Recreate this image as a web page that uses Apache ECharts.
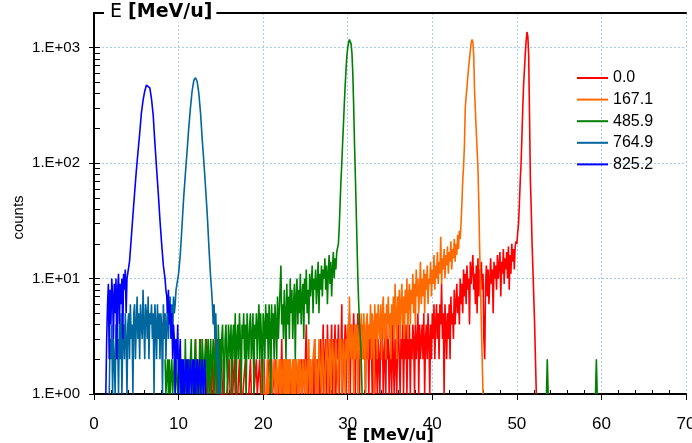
<!DOCTYPE html>
<html>
<head>
<meta charset="utf-8">
<script src="https://cdn.jsdelivr.net/npm/echarts@6/dist/echarts.min.js"></script>
<style>
  html, body { margin: 0; padding: 0; background: #fff; }
  #chart { width: 692px; height: 443px; }
</style>
</head>
<body>
<div id="chart"></div>
<script>
// Energy spectra (counts per bin) for five absorber thicknesses.
// Low-count regions use 0.1 MeV/u bins; broad peak flanks 0.2 MeV/u bins.
const seriesNames = ['0.0', '167.1', '485.9', '764.9', '825.2'];
const seriesColors = ['#ff0000', '#ff6a00', '#008000', '#00669e', '#0000ff'];
const xTicks = [0, 10, 20, 30, 40, 50, 60, 70];
const yTicks = [1, 10, 100, 1000];

// ---- 0.0 ----
const redLowStart = 11.8;   // 0.1 bins, 11.8 .. 49.9
const redLow = [
  1, 1, 3, 1, 1, 2, 1, 1, 3, 1,
  1, 2, 1, 1, 1, 3, 1, 1, 2, 1,
  1, 1, 2, 1, 1, 1, 4, 1, 1, 1,
  2, 1, 1, 1, 1, 2, 1, 1, 1, 1,
  1, 1, 2, 1, 1, 1, 1, 1, 2, 1,
  1, 1, 1, 1, 2, 1, 1, 1, 1, 1,
  1, 2, 1, 1, 1, 1, 1, 2, 1, 1,
  1, 1, 1, 1, 2, 1, 1, 1, 2, 1,
  1, 1, 1, 2, 1, 1, 1, 1, 1, 2,
  1, 1, 2, 1, 1, 1, 2, 1, 1, 1,
  1, 1, 2, 1, 3, 1, 1, 2, 1, 1,
  2, 1, 1, 1, 2, 1, 1, 1, 2, 1,
  1, 2, 1, 1, 2, 1, 1, 2, 1, 1,
  2, 1, 1, 4, 1, 2, 1, 1, 2, 1,
  1, 2, 1, 3, 1, 1, 2, 1, 2, 1,
  3, 1, 2, 4, 1, 2, 3, 1, 4, 2,
  1, 3, 2, 4, 1, 3, 2, 4, 1, 3,
  2, 4, 1, 3, 2, 6, 1, 3, 2, 4,
  1, 3, 4, 2, 5, 1, 4, 3, 2, 5,
  3, 1, 4, 2, 5, 3, 1, 4, 2, 3,
  4, 2, 3, 1, 4, 2, 3, 1, 4, 2,
  3, 1, 2, 4, 1, 3, 2, 1, 3, 2,
  1, 3, 2, 4, 1, 2, 3, 1, 4, 2,
  3, 1, 2, 3, 1, 4, 2, 1, 3, 2,
  1, 3, 4, 2, 1, 3, 2, 4, 1, 3,
  2, 4, 1, 3, 2, 4, 1, 3, 2, 4,
  3, 1, 4, 2, 3, 5, 1, 4, 2, 3,
  4, 2, 5, 1, 3, 4, 2, 5, 3, 1,
  4, 2, 5, 3, 6, 2, 4, 6, 3, 5,
  2, 6, 4, 9, 3, 5, 1, 6, 4, 2,
  5, 3, 6, 2, 7, 4, 5, 3, 8, 4,
  6, 9, 5, 7, 4, 10, 6, 9, 5, 12,
  7, 11, 6, 13, 8, 10, 4, 14, 9, 12,
  16, 8, 11, 6, 13, 5, 15, 7, 12, 10,
  14, 8, 11, 3, 2, 9, 13, 7, 12, 6,
  6, 15, 9, 12, 5, 14, 10, 13, 8, 16,
  10, 13, 17, 7, 14, 11, 18, 9, 15, 12,
  17, 10, 19, 8, 16, 11, 20, 14, 18, 12,
  19, 21
];
const redPeakStart = 50.0;  // 0.1 bins
const redPeak = [20, 25, 30, 45, 70, 100, 170, 300, 480, 650, 900, 1150, 1370, 1250, 850, 250, 70, 40, 20, 12, 7, 4, 2, 1];

// ---- 167.1 ----
const orangeLowStart = 19.8; // 0.1 bins, 19.8 .. 43.3
const orangeLow = [
  1, 1, 2, 1, 1, 1, 1, 2, 1, 1,
  1, 2, 1, 1, 1, 2, 1, 1, 2, 1,
  1, 2, 1, 2, 1, 1, 2, 1, 2, 1,
  2, 1, 2, 1, 2, 2, 1, 2, 1, 2,
  1, 2, 2, 1, 2, 1, 2, 2, 1, 2,
  2, 1, 2, 2, 1, 2, 3, 1, 2, 2,
  1, 2, 2, 3, 1, 2, 2, 1, 3, 2,
  2, 1, 3, 2, 2, 1, 2, 3, 2, 1,
  2, 3, 1, 2, 3, 2, 1, 2, 3, 2,
  2, 1, 3, 2, 3, 1, 2, 3, 2, 1,
  3, 2, 4, 1, 7, 3, 2, 4, 3, 1,
  4, 2, 3, 4, 1, 3, 4, 2, 5, 3,
  2, 5, 3, 1, 4, 5, 2, 4, 3, 6,
  2, 5, 4, 1, 6, 3, 5, 2, 6, 4,
  3, 6, 2, 5, 7, 3, 5, 2, 6, 4,
  7, 3, 5, 2, 6, 4, 7, 3, 9, 5,
  2, 7, 4, 8, 3, 6, 9, 4, 7, 3,
  8, 5, 10, 3, 7, 9, 4, 8, 6, 11,
  5, 9, 4, 12, 7, 10, 5, 8, 14, 6,
  10, 7, 12, 5, 11, 8, 13, 6, 10, 9,
  14, 7, 12, 9, 16, 8, 13, 10, 17, 9,
  14, 11, 23, 9, 15, 12, 18, 10, 16, 13,
  19, 11, 17, 14, 21, 12, 18, 15, 22, 14,
  20, 16, 24, 18, 26, 22
];
const orangePeakStart = 43.4; // 0.1 bins
const orangePeak = [30, 45, 70, 95, 140, 300, 380, 450, 560, 680, 800, 950, 1100, 1180, 1120, 850, 420, 280, 190, 130, 90, 45, 18, 9, 4, 2, 1];

// ---- 485.9 ----
const greenLowStart = 8.4;   // 0.1 bins, 8.4 .. 28.7
const greenLow = [
  2, 1, 1, 2, 1, 2, 1, 1, 2, 1,
  1, 2, 1, 2, 2, 1, 1, 2, 1, 2,
  1, 2, 2, 1, 3, 1, 2, 1, 2, 1,
  2, 3, 1, 2, 1, 2, 3, 1, 2, 2,
  1, 3, 2, 1, 3, 2, 1, 2, 3, 1,
  2, 3, 1, 2, 3, 1, 2, 3, 2, 1,
  3, 2, 1, 4, 2, 3, 1, 3, 4, 2,
  1, 3, 4, 2, 1, 4, 3, 2, 4, 1,
  3, 4, 2, 5, 1, 3, 4, 2, 5, 3,
  1, 4, 3, 5, 2, 4, 1, 5, 3, 2,
  4, 5, 2, 3, 5, 1, 4, 3, 5, 2,
  4, 6, 2, 5, 3, 1, 5, 4, 2, 6,
  3, 5, 2, 6, 4, 1, 6, 3, 5, 2,
  6, 4, 2, 7, 3, 5, 8, 13, 4, 6,
  3, 8, 5, 2, 9, 4, 7, 3, 10, 5,
  8, 3, 6, 9, 2, 7, 10, 4, 8, 5,
  11, 4, 7, 9, 3, 10, 6, 12, 5, 8,
  4, 11, 7, 9, 13, 5, 10, 8, 12, 6,
  9, 14, 5, 11, 8, 13, 7, 12, 10, 15,
  8, 13, 6, 11, 16, 9, 14, 7, 12, 17,
  10, 15, 12, 17
];
const greenPeakStart = 28.8; // 0.1 bins
const greenPeak = [17, 20, 28, 45, 70, 100, 150, 220, 330, 470, 650, 850, 1000, 1100, 1180, 1200, 1080, 900, 600, 320, 150, 80, 40, 20, 10, 6, 4, 3, 2, 1, 1];
const greenIsolated = [
  [[53.5, 1], [53.6, 2], [53.7, 1]],
  [[59.3, 1], [59.4, 2], [59.5, 1]]
];

// ---- 764.9 ----
const tealLowStart = 1.8;    // 0.1 bins, 1.8 .. 9.7
const tealLow = [
  1, 3, 2, 4, 1, 3, 2, 1, 4, 2,
  3, 1, 4, 2, 5, 1, 3, 4, 2, 5,
  3, 1, 4, 5, 2, 6, 3, 4, 1, 5,
  6, 2, 4, 7, 3, 5, 2, 6, 4, 3,
  8, 4, 2, 6, 5, 3, 7, 2, 5, 4,
  6, 3, 5, 1, 6, 4, 2, 6, 3, 5,
  2, 5, 4, 1, 6, 3, 5, 2, 4, 6,
  3, 5, 7, 4, 6, 3, 7, 5, 6, 8
];
const tealPeakStart = 9.8;   // 0.2 bins
const tealPeak = [8, 11, 16, 28, 50, 80, 125, 200, 300, 420, 520, 550, 510, 400, 270, 160, 100, 60, 35, 18, 10];
const tealHighStart = 13.9;  // 0.1 bins
const tealHigh = [8, 6, 4, 6, 3, 5, 2, 3, 1, 2, 1];

// ---- 825.2 ----
const blueLowStart = 1.4;    // 0.1 bins, 1.4 .. 3.9
const blueLow = [
  1, 3, 6, 9, 2, 8, 4, 10, 7, 3,
  9, 5, 10, 2, 8, 11, 4, 9, 6, 10,
  3, 11, 8, 12, 5, 10
];
const bluePeakStart = 4.0;   // 0.2 bins
const bluePeak = [10, 14, 22, 35, 55, 85, 125, 180, 270, 350, 420, 475, 490, 450, 360, 260, 150, 90, 55, 32, 20, 13, 10];
const blueHighStart = 8.5;   // 0.1 bins
const blueHigh = [
  8, 7, 5, 8, 4, 6, 3, 5, 2, 4,
  3, 1, 3, 2, 4, 1, 2, 3, 1, 2,
  1, 2, 1, 1, 2, 1, 2, 1, 1, 2,
  1, 1, 2, 1, 2, 1, 1, 2, 1, 1,
  2, 1, 1, 2, 1, 1, 2, 1
];

const fineStep = 0.1;
const coarseStep = 0.2;

function binned(start, step, counts) {
  return counts.map((c, i) => [Number((start + i * step).toFixed(2)), c]);
}
function withGaps(parts) {
  const out = [];
  parts.forEach((p, i) => {
    if (i > 0) out.push([p[0][0] - 0.05, '-']);
    p.forEach(d => out.push(d));
  });
  return out;
}

const seriesData = [
  binned(redLowStart, fineStep, redLow).concat(binned(redPeakStart, fineStep, redPeak)),
  binned(orangeLowStart, fineStep, orangeLow).concat(binned(orangePeakStart, fineStep, orangePeak)),
  withGaps([
    binned(greenLowStart, fineStep, greenLow).concat(binned(greenPeakStart, fineStep, greenPeak))
  ].concat(greenIsolated)),
  binned(tealLowStart, fineStep, tealLow)
    .concat(binned(tealPeakStart, coarseStep, tealPeak))
    .concat(binned(tealHighStart, fineStep, tealHigh)),
  binned(blueLowStart, fineStep, blueLow)
    .concat(binned(bluePeakStart, coarseStep, bluePeak))
    .concat(binned(blueHighStart, fineStep, blueHigh))
];

// minor tick positions
const xMinor = [];
for (let v = 0; v <= 70; v += 2) if (v % 10 !== 0) xMinor.push(v);
const yMinor = [];
[1, 10, 100].forEach(d => { for (let m = 2; m <= 10; m++) yMinor.push(d * m); });

const FONT = 'Liberation Sans';
const gridColor = '#a6cdf0';

const chart = echarts.init(document.getElementById('chart'), null, { renderer: 'canvas' });
chart.setOption({
  animation: false,
  backgroundColor: '#fff',
  title: {
    text: '{a|E }{b|[MeV/u]}',
    left: 104,
    top: 3,
    padding: [0, 4, 0, 6],
    backgroundColor: '#fff',
    textStyle: {
      rich: {
        a: { fontFamily: 'DejaVu Sans', fontSize: 19, color: '#000', fontWeight: 'normal' },
        b: { fontFamily: 'DejaVu Sans', fontSize: 19, color: '#000', fontWeight: 'bold' }
      }
    }
  },
  legend: {
    orient: 'vertical',
    left: 571,
    top: 65,
    itemWidth: 31,
    itemHeight: 14,
    itemGap: 5.6,
    data: seriesNames,
    itemStyle: { opacity: 0 },
    lineStyle: { width: 2 },
    textStyle: { fontFamily: FONT, fontSize: 16, color: '#000' }
  },
  grid: { left: 94, right: 6, top: 13, bottom: 49, containLabel: false, outerBoundsMode: 'none' },
  xAxis: [
    {
      type: 'value', min: 0, max: 70, interval: 10, position: 'bottom',
      axisLine: { lineStyle: { color: '#000', width: 2 } },
      axisTick: { length: 6, lineStyle: { color: '#000', width: 1 } },
      axisLabel: { fontFamily: FONT, fontSize: 17, color: '#000', margin: 22,
        customValues: xTicks },
      splitLine: { show: true, lineStyle: { color: gridColor, type: [2, 2], width: 1 } },
      name: 'E [MeV/u]', nameLocation: 'middle', nameGap: 34, nameMoveOverlap: false,
      nameTextStyle: { fontFamily: 'DejaVu Sans', fontSize: 16, fontWeight: 'bold', color: '#000' }
    },
    {
      type: 'value', min: 0, max: 70, position: 'bottom',
      axisLine: { show: false },
      axisTick: { inside: true, length: 4, customValues: xMinor, lineStyle: { color: '#000', width: 1 } },
      axisLabel: { show: false },
      splitLine: { show: false }
    },
    {
      type: 'value', min: 0, max: 70, position: 'top',
      axisLine: { lineStyle: { color: '#000', width: 2 } },
      axisTick: { show: false }, axisLabel: { show: false }, splitLine: { show: false }
    }
  ],
  yAxis: [
    {
      type: 'log', logBase: 10, min: 1, max: 2000, position: 'left',
      axisLine: { lineStyle: { color: '#000', width: 2 } },
      axisTick: { length: 5, customValues: yTicks, lineStyle: { color: '#000', width: 1 } },
      axisLabel: {
        fontFamily: FONT, fontSize: 15, color: '#000', margin: 14,
        customValues: yTicks,
        formatter: v => '1.E+0' + Math.round(Math.log10(v))
      },
      splitLine: { show: true, lineStyle: { color: gridColor, type: [2, 2], width: 1 } },
      name: 'counts', nameLocation: 'middle', nameGap: 68, nameRotate: 90, nameMoveOverlap: false,
      nameTextStyle: { fontFamily: FONT, fontSize: 15, color: '#000', padding: [0, 28, 0, 0] }
    },
    {
      type: 'log', logBase: 10, min: 1, max: 2000, position: 'left',
      axisLine: { show: false },
      axisTick: { inside: true, length: 6, customValues: yMinor, lineStyle: { color: '#000', width: 1 } },
      axisLabel: { show: false },
      splitLine: { show: false }
    },
    {
      type: 'log', logBase: 10, min: 1, max: 2000, position: 'right',
      axisLine: { lineStyle: { color: '#000', width: 2 } },
      axisTick: { show: false }, axisLabel: { show: false }, splitLine: { show: false }
    }
  ],
  series: seriesData.map((d, i) => ({
    name: seriesNames[i],
    type: 'line',
    data: d,
    xAxisIndex: 0,
    yAxisIndex: 0,
    symbol: 'none',
    showSymbol: false,
    connectNulls: false,
    clip: true,
    color: seriesColors[i],
    lineStyle: { color: seriesColors[i], width: 1.6 },
    z: 2 + i
  }))
});
</script>
</body>
</html>
